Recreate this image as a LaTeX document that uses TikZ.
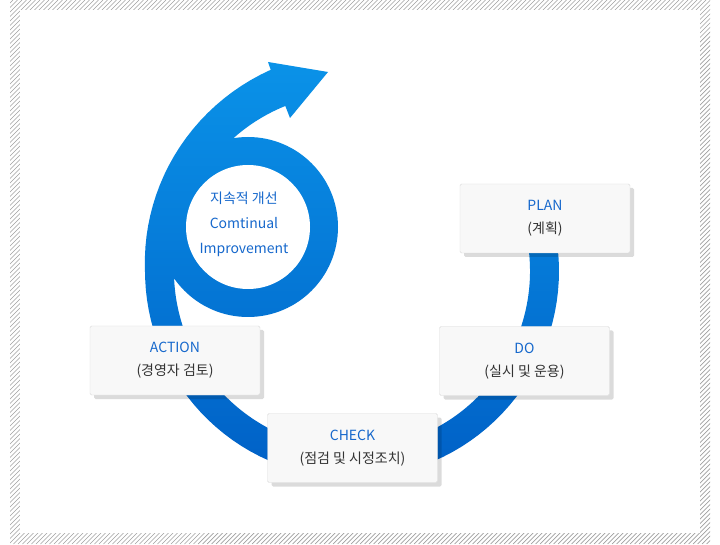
\documentclass[tikz,border=0pt]{standalone}
\usepackage{fontspec}
\setmainfont{Noto Sans CJK KR}
\usetikzlibrary{shadows}
\definecolor{stageblue}{RGB}{22,104,204}
\definecolor{stagetext}{RGB}{51,51,51}
\definecolor{boxfill}{RGB}{248,248,248}
\definecolor{boxline}{RGB}{218,218,218}
\definecolor{hatch}{RGB}{160,160,160}
\definecolor{loopTop}{RGB}{10,146,232}
\definecolor{loopBottom}{RGB}{0,96,198}
\tikzset{
  stage/.style={draw=boxline, fill=boxfill, rounded corners=1.5pt,
    minimum width=170pt, minimum height=69pt, inner sep=0pt, align=center,
    font=\fontsize{14}{23}\selectfont, text=stagetext,
    drop shadow={shadow xshift=4pt, shadow yshift=-4pt, fill=black, opacity=.14, draw=none}},
}
\newcommand{\stagehead}[1]{\textcolor{stageblue}{#1}}
\begin{document}
\begin{tikzpicture}[x=1pt, y=1pt]
\useasboundingbox (0,0) rectangle (720,544);
\fill[white] (0,0) rectangle (720,544);
\begin{scope}
\clip (10,0) rectangle (710,544);
\foreach \k in {-540,-535.5,...,710}
  \draw[hatch, line width=.7pt] (\k,0) -- ++(544,544);
\end{scope}
\fill[white] (20,11) rectangle (700,534);
\begin{scope}[shift={(352,273)}]
\shade[top color=loopTop, bottom color=loopBottom]
  plot[domain=12:-248, samples=90] (\x:{207+10*max(0,-180-(\x))/68})
  -- (-84,209) -- (-24,199) -- (-62,153) -- (-248:178)
  arc[start angle=-248, end angle=12, radius=178] -- cycle
  (-14,44) arc[start angle=0, end angle=-360, radius=90];
\fill[white] (-104,44) circle[radius=62];
\end{scope}
\node[stage] (P) at (545,325.5) {\stagehead{PLAN}\\(계획)};
\node[stage] (D) at (524.5,183) {\stagehead{DO}\\(실시 및 운용)};
\node[stage] (C) at (352.5,96) {\stagehead{CHECK}\\(점검 및 시정조치)};
\node[stage] (A) at (175,183.5) {\stagehead{ACTION}\\(경영자 검토)};
\node[align=center, text=stageblue, font=\fontsize{14}{25}\selectfont] (G) at (244,320)
  {지속적 개선\\Comtinual\\Improvement};
\end{tikzpicture}
\end{document}
